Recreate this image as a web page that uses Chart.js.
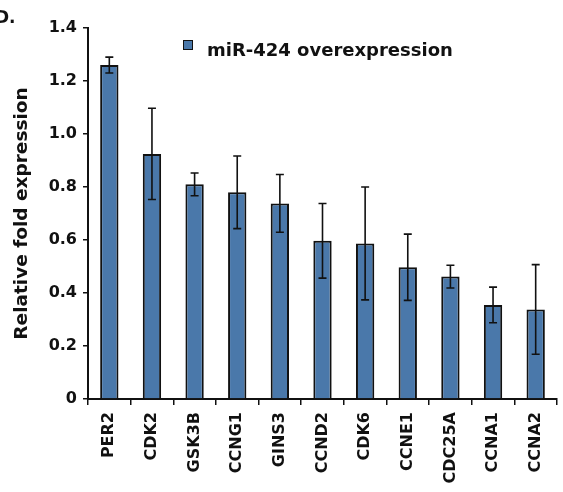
<!DOCTYPE html>
<html>
<head>
<meta charset="utf-8">
<script src="https://cdn.jsdelivr.net/npm/chart.js@4.4.0/dist/chart.umd.min.js"></script>
<style>
  body { margin: 0; background: #fff; }
  #wrap { width: 563px; height: 492px; }
</style>
</head>
<body>
<div id="wrap"><canvas id="myChart" width="563" height="492"></canvas></div>
<script>
// data
const genes = ['PER2', 'CDK2', 'GSK3B', 'CCNG1', 'GINS3', 'CCND2', 'CDK6', 'CCNE1', 'CDC25A', 'CCNA1', 'CCNA2'];
const foldChange = [1.26, 0.925, 0.81, 0.78, 0.738, 0.597, 0.587, 0.497, 0.462, 0.355, 0.338];
const errors = [0.03, 0.172, 0.043, 0.137, 0.109, 0.141, 0.213, 0.125, 0.043, 0.067, 0.169];
const yTicks = [0, 0.2, 0.4, 0.6, 0.8, 1.0, 1.2, 1.4];

const barColor = '#4a78aa';
const ink = '#111111';
const fontFam = '"DejaVu Sans", "Liberation Sans", Arial, sans-serif';

// error bars drawn from the bar elements and the y scale
const errorBars = {
  id: 'errorBars',
  afterDatasetsDraw(chart) {
    const ctx = chart.ctx;
    const y = chart.scales.y;
    const meta = chart.getDatasetMeta(0);
    ctx.save();
    ctx.strokeStyle = ink;
    ctx.lineWidth = 1.6;
    meta.data.forEach((bar, i) => {
      const top = y.getPixelForValue(foldChange[i] + errors[i]);
      const bot = y.getPixelForValue(foldChange[i] - errors[i]);
      const cap = 4;
      ctx.beginPath();
      ctx.moveTo(bar.x, top); ctx.lineTo(bar.x, bot);
      ctx.moveTo(bar.x - cap, top); ctx.lineTo(bar.x + cap, top);
      ctx.moveTo(bar.x - cap, bot); ctx.lineTo(bar.x + cap, bot);
      ctx.stroke();
    });
    ctx.restore();
  }
};

// legend inside the plot plus the panel letter
const panelLegend = {
  id: 'panelLegend',
  afterDraw(chart) {
    const ctx = chart.ctx;
    ctx.save();
    ctx.fillStyle = barColor;
    ctx.strokeStyle = ink;
    ctx.lineWidth = 1;
    ctx.fillRect(183.5, 40.5, 9, 9);
    ctx.strokeRect(183.5, 40.5, 9, 9);
    ctx.fillStyle = ink;
    ctx.font = 'bold 18px ' + fontFam;
    ctx.textBaseline = 'alphabetic';
    ctx.fillText(chart.data.datasets[0].label, 207, 56);
    ctx.font = 'bold 17px ' + fontFam;
    ctx.fillText('D.', -5, 23);
    ctx.restore();
  }
};

const ctx = document.getElementById('myChart').getContext('2d');
const chart = new Chart(ctx, {
  type: 'bar',
  data: {
    labels: genes,
    datasets: [{
      label: 'miR-424 overexpression',
      data: foldChange,
      backgroundColor: barColor,
      borderColor: ink,
      borderWidth: 2,
      barPercentage: 0.43,
      categoryPercentage: 1
    }]
  },
  options: {
    responsive: false,
    animation: false,
    layout: { padding: { top: 28, right: 6, left: 0, bottom: 0 } },
    plugins: {
      legend: { display: false },
      tooltip: { enabled: false }
    },
    scales: {
      x: {
        afterFit: (s) => { s.height = 93; },
        border: { display: true, color: ink, width: 2 },
        grid: { drawOnChartArea: false, drawTicks: true, tickLength: 6, color: ink, lineWidth: 1.5 },
        ticks: {
          color: ink,
          minRotation: 90,
          maxRotation: 90,
          padding: 7,
          font: { family: fontFam, size: 16, weight: 'bold' }
        }
      },
      y: {
        min: 0,
        max: 1.4,
        afterFit: (s) => { s.width = 88; },
        afterBuildTicks: (s) => { s.ticks = yTicks.map(v => ({ value: v })); },
        border: { display: true, color: ink, width: 2 },
        grid: { drawOnChartArea: false, drawTicks: true, tickLength: 5, color: ink, lineWidth: 1.5 },
        ticks: {
          color: ink,
          padding: 6,
          font: { family: fontFam, size: 16, weight: 'bold' },
          callback: (v) => v === 0 ? '0' : v.toFixed(1)
        },
        title: {
          display: true,
          text: 'Relative fold expression',
          color: ink,
          padding: { top: 11, bottom: 0 },
          font: { family: fontFam, size: 18.5, weight: 'bold' }
        }
      }
    }
  },
  plugins: [errorBars, panelLegend]
});
</script>
</body>
</html>
